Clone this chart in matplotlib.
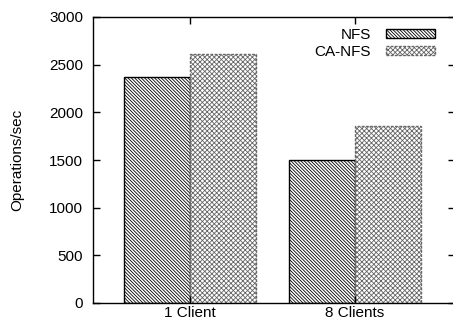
import matplotlib
matplotlib.use("Agg")
import matplotlib.pyplot as plt
import numpy as np

plt.rcParams['font.family'] = ['Liberation Sans', 'DejaVu Sans']
plt.rcParams['hatch.linewidth'] = 0.6

categories = ["1 Client", "8 Clients"]
series_names = ["NFS", "CA-NFS"]
nfs_ops = [2370, 1500]
ca_nfs_ops = [2610, 1860]
y_ticks = [0, 500, 1000, 1500, 2000, 2500, 3000]

fig = plt.figure(figsize=(4.53, 3.24), dpi=100)
ax = fig.add_axes([93 / 453, 21 / 324, 362 / 453, 286 / 324])

x = np.arange(len(categories))
w = 0.4
ax.bar(x - w / 2, nfs_ops, w, facecolor='white', edgecolor='black',
       hatch='\\' * 10, linewidth=1.0, label=series_names[0])
ax.bar(x + w / 2, ca_nfs_ops, w, facecolor='white', edgecolor='#666666',
       hatch='x' * 7, linewidth=1.0, linestyle=(0, (2, 1)), label=series_names[1])

ax.set_xlim(-0.588, 1.606)
ax.set_ylim(0, 3000)
ax.set_yticks(y_ticks)
ax.set_xticks(x)
ax.set_xticklabels(categories)
ax.tick_params(direction='in', length=5, width=1, labelsize=11,
               top=True, right=True)
ax.tick_params(axis='y', pad=7)
ax.tick_params(axis='x', pad=2)
ax.set_ylabel("Operations/sec", fontsize=11, labelpad=18)
for s in ax.spines.values():
    s.set_linewidth(1.0)

leg = ax.legend(loc='upper right', frameon=False, fontsize=11,
                markerfirst=False, handlelength=3.2, handleheight=0.55,
                borderaxespad=0.3, labelspacing=0.2, handletextpad=1.0,
                bbox_to_anchor=(0.975, 1.0))

fig.savefig("out.png", dpi=100)
